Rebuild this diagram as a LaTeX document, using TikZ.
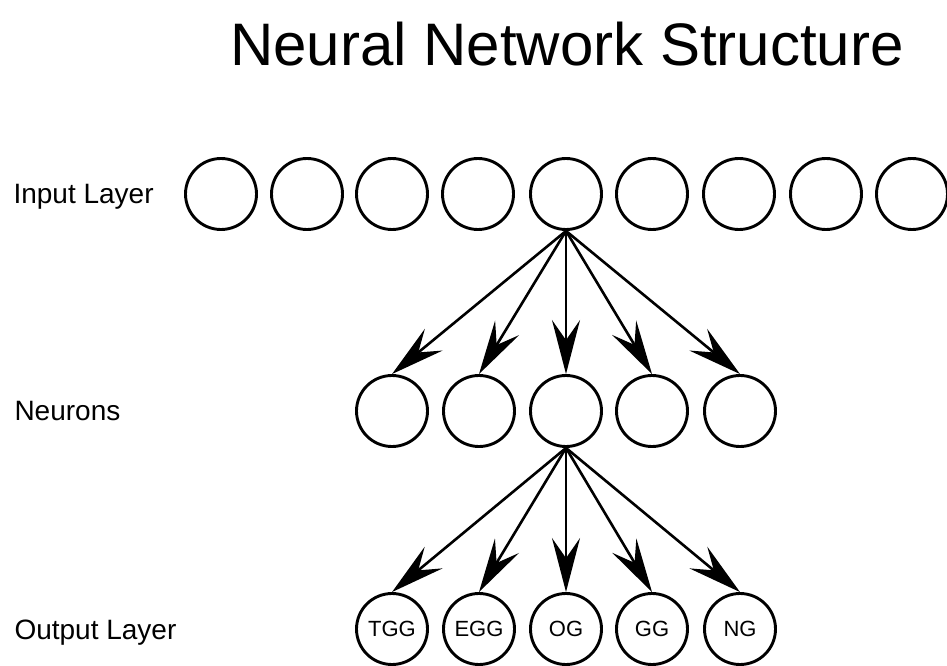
\documentclass[tikz,border=0pt]{standalone}
\usepackage{fontspec}
\setmainfont{Liberation Sans}
\usetikzlibrary{arrows.meta}
\begin{document}
\begin{tikzpicture}[x=1pt, y=-1pt,
  unit/.style={draw, circle, line width=2.9pt, minimum size=71pt, inner sep=0pt, font=\fontsize{22}{26}\selectfont},
  feed/.style={-{Stealth[length=54pt, width=28pt, inset=20pt]}, line width=2.6pt},
  layer/.style={anchor=base west, font=\fontsize{28}{34}\selectfont}]
\useasboundingbox (0,0) rectangle (947,666);
\clip (0,0) rectangle (947,666);
\node[anchor=base, font=\fontsize{60}{72}\selectfont] (title) at (567, 66) {Neural Network Structure};
% layer names
\node[layer] (lin) at (10, 203) {Input Layer};
\node[layer] (lneu) at (11, 420) {Neurons};
\node[layer] (lout) at (11, 639) {Output Layer};
% input layer
\node[unit] (in1) at (221, 194) {};
\node[unit] (in2) at (307, 194) {};
\node[unit] (in3) at (392, 194) {};
\node[unit] (in4) at (478, 194) {};
\node[unit] (in5) at (566, 194) {};
\node[unit] (in6) at (652, 194) {};
\node[unit] (in7) at (739, 194) {};
\node[unit] (in8) at (826, 194) {};
\node[unit] (in9) at (912, 194) {};
% neurons
\node[unit] (n1) at (392, 411) {};
\node[unit] (n2) at (479, 411) {};
\node[unit] (n3) at (566, 411) {};
\node[unit] (n4) at (652, 411) {};
\node[unit] (n5) at (740, 411) {};
% output layer
\node[unit] (out1) at (392, 629) {TGG};
\node[unit] (out2) at (479, 629) {EGG};
\node[unit] (out3) at (566, 629) {OG};
\node[unit] (out4) at (652, 629) {GG};
\node[unit] (out5) at (740, 629) {NG};
% connections
\draw[feed] (in5.south) -- (n1.north);
\draw[feed] (in5.south) -- (n2.north);
\draw[feed] (in5.south) -- (n3.north);
\draw[feed] (in5.south) -- (n4.north);
\draw[feed] (in5.south) -- (n5.north);
\draw[feed] (n3.south) -- (out1.north);
\draw[feed] (n3.south) -- (out2.north);
\draw[feed] (n3.south) -- (out3.north);
\draw[feed] (n3.south) -- (out4.north);
\draw[feed] (n3.south) -- (out5.north);
\end{tikzpicture}
\end{document}
